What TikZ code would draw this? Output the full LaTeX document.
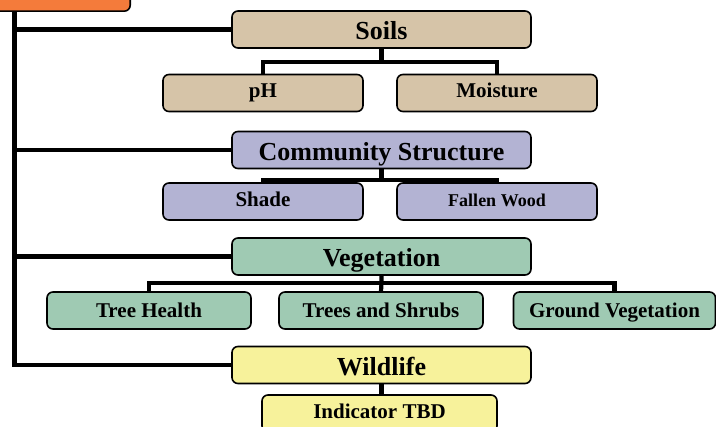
\documentclass[tikz,border=0pt]{standalone}
\usepackage{fontspec}
\setmainfont{Liberation Serif}
\usetikzlibrary{calc}
\definecolor{roottone}{HTML}{F47B3B}
\definecolor{soiltone}{HTML}{D6C4A8}
\definecolor{commtone}{HTML}{B3B3D3}
\definecolor{vegtone}{HTML}{9FCAB3}
\definecolor{wildtone}{HTML}{F7F29B}
\tikzset{
  box/.style={draw,line width=1.6pt,rounded corners=6pt,inner sep=0pt,
    minimum height=37pt,text height=14pt,text depth=4pt,
    font=\bfseries\fontsize{21}{23}\selectfont},
  headbox/.style={box,minimum width=299pt,text height=21pt,text depth=0pt,
    font=\bfseries\fontsize{26}{28}\selectfont},
  leafbox/.style={box,minimum width=200pt},
  vegbox/.style={leafbox,fill=vegtone,text height=16pt,text depth=2pt},
  trunk/.style={line width=4.8pt},
  twig/.style={line width=4.2pt}
}
\begin{document}
\begin{tikzpicture}[x=1pt,y=-1pt]
\useasboundingbox (0,0) rectangle (716,427);
%top box, mostly off the page
\node[box,fill=roottone,minimum width=150pt,minimum height=40pt,anchor=south east](root)at(131,12){};
%main headings
\node[headbox,fill=soiltone](soils)at(381.5,29.5){Soils};
\node[headbox,fill=commtone](comm)at(381.5,150){Community Structure};
\node[headbox,fill=vegtone](veg)at(381.5,256.5){Vegetation};
\node[headbox,fill=wildtone](wild)at(381.5,365){Wildlife};
%indicators
\node[leafbox,fill=soiltone](ph)at(263,93){pH};
\node[leafbox,fill=soiltone](moist)at(497,93){Moisture};
\node[leafbox,fill=commtone](shade)at(263,201.5){Shade};
\node[leafbox,fill=commtone,text height=15pt,text depth=5pt,font=\bfseries\fontsize{18}{20}\selectfont](wood)at(497,201.5){Fallen Wood};
\node[vegbox,minimum width=204pt](health)at(149,310.5){Tree Health};
\node[vegbox,minimum width=204pt](shrubs)at(381,310.5){Trees and Shrubs};
\node[vegbox,minimum width=202pt](ground)at(614.5,310.5){Ground Vegetation};
\node[box,fill=wildtone,minimum width=235pt](tbd)at(379.5,413.5){Indicator TBD};
%trunk
\coordinate(tk)at(14.5,365);
\draw[trunk](root.south -| tk)--(tk)--(wild.west);
\draw[trunk](soils.west -| tk)--(soils.west);
\draw[trunk](comm.west -| tk)--(comm.west);
\draw[trunk](veg.west -| tk)--(veg.west);
%branches
\coordinate(sb)at(381.5,62);
\draw[twig](soils.south)--(sb);
\draw[twig](ph.north)|-(sb)-|(moist.north);
\coordinate(cb)at(381.5,180);
\draw[twig](comm.south)--(cb);
\draw[twig](shade.north)|-(cb)-|(wood.north);
\coordinate(vb)at(381.5,283);
\draw[twig](veg.south)--(vb)--(shrubs.north);
\draw[twig](health.north)|-(vb)-|(ground.north);
\draw[twig](wild.south)--(wild.south |- tbd.north);
\end{tikzpicture}
\end{document}
